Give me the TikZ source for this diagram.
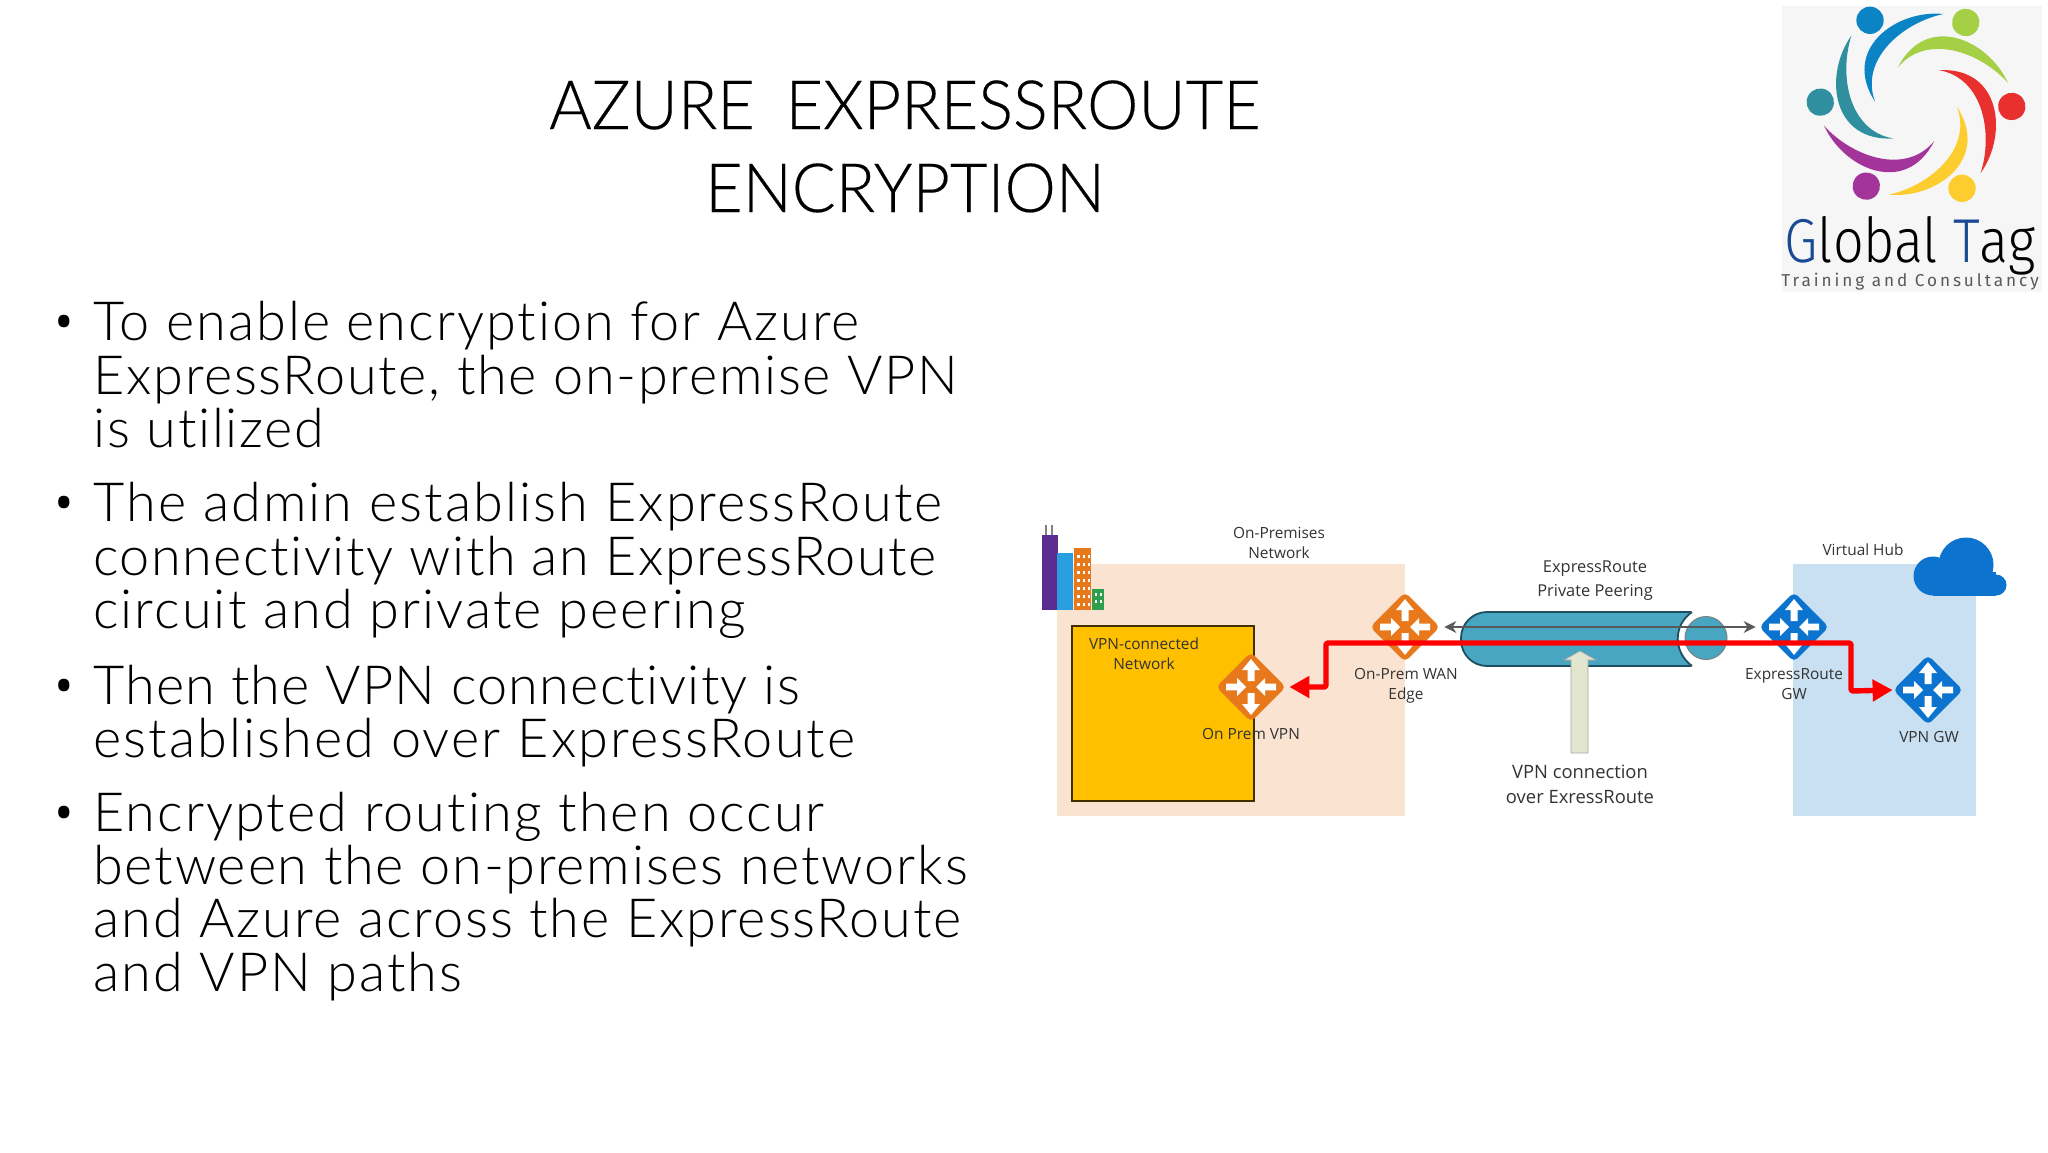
\documentclass[tikz,border=0pt]{standalone}
\usepackage{fontspec}
\setmainfont{Lato}
\newfontfamily\bodyf{Lato Light}[Ligatures=NoCommon,LetterSpace=3]
\newfontfamily\titlef{Lato Light}[FakeStretch=0.955,FakeBold=0.25]
\newfontfamily\labelf{Open Sans}
\newfontfamily\logof{Fira Sans Light}[FakeStretch=0.87]
\newfontfamily\logosubf{Fira Sans}[LetterSpace=17]
\usetikzlibrary{shapes.geometric,arrows.meta}
\newcommand{\lsp}[1]{\addfontfeature{LetterSpace=#1}}
\definecolor{routerorange}{HTML}{E8781C}
\definecolor{routerblue}{HTML}{0C73CF}
\definecolor{peach}{HTML}{FBE3D2}
\definecolor{hubblue}{HTML}{C9E0F3}
\definecolor{netyellow}{HTML}{FFC000}
\definecolor{tube}{HTML}{48A6C2}
\definecolor{tubedark}{HTML}{1F4E5E}
\definecolor{labelgray}{HTML}{333333}
\definecolor{pale}{HTML}{E2E6CF}
\definecolor{bldpurple}{HTML}{5C2D91}
\definecolor{bldblue}{HTML}{2A9FE0}
\definecolor{bldgreen}{HTML}{2E9E4F}
\tikzset{
  x=0.5pt,y=-0.5pt,
  titletext/.style={font=\titlef\fontsize{34}{34}\selectfont,text=black,inner sep=0pt,anchor=base},
  bodyline/.style={font=\bodyf\fontsize{27}{27}\selectfont,text=black,inner sep=0pt,anchor=base west},
  bullet/.style={font=\labelf\fontsize{26}{26}\selectfont,text=black,inner sep=0pt,anchor=base},
  lbl/.style={font=\labelf\fontsize{7.7}{7.7}\selectfont,text=labelgray,inner sep=0pt,anchor=base},
  lblbig/.style={font=\labelf\fontsize{9.2}{9.2}\selectfont,text=labelgray,inner sep=0pt,anchor=base},
  router/.style={diamond,aspect=1,draw=none,fill=#1,minimum width=35pt,minimum height=35pt,inner sep=0pt,rounded corners=2.5pt},
  redlink/.style={draw=red,line width=2.7pt,line join=round,rounded corners=1pt,{Triangle[length=10pt,width=10.5pt]}-{Triangle[length=10pt,width=10.5pt]},shorten <=1.5pt},
  graylink/.style={draw=black!65,line width=0.7pt,{Stealth[length=6pt,width=6pt]}-{Stealth[length=6pt,width=6pt]},shorten <=2pt,shorten >=1.5pt},
  router arrows/.pic={
    \foreach \a in {0,180}
      \fill[white,rotate=\a] (-3.5,-6) -- (-3.5,-17) -- (-9,-17) -- (0,-28) -- (9,-17) -- (3.5,-17) -- (3.5,-6) -- cycle;
    \foreach \a in {90,270}
      \fill[white,rotate=\a] (-3.3,-25) -- (-3.3,-14) -- (-9,-14) -- (0,-5) -- (9,-14) -- (3.3,-14) -- (3.3,-25) -- cycle;
  }
}
\begin{document}
\begin{tikzpicture}
\useasboundingbox (0,0) rectangle (2048,1152);
\fill[white] (0,0) rectangle (2048,1152);
% title
\node[titletext] (t1) at (905,129) {AZURE\hspace{6.5pt} EXPRESSROUTE};
\node[titletext] (t2) at (905,212) {ENCRYPTION};
% body
\foreach \n/\y in {b1/340,b2/521,b3/704,b4/831}
  \node[bullet] (\n) at (64,\y) {•};
\node[bodyline] (l1) at (93,340) {\lsp{3.6}To enable encryption for Azure};
\node[bodyline] (l2) at (93,394) {\lsp{3.2}ExpressRoute, the on-premise VPN};
\node[bodyline] (l3) at (93,447) {\lsp{3.3}is utilized};
\node[bodyline] (l4) at (93,521) {\lsp{3.9}The admin establish ExpressRoute};
\node[bodyline] (l5) at (93,575) {\lsp{2.8}connectivity with an ExpressRoute};
\node[bodyline] (l6) at (93,628) {\lsp{3.8}circuit and private peering};
\node[bodyline] (l7) at (93,704) {\lsp{2.2}Then the VPN connectivity is};
\node[bodyline] (l8) at (93,757) {\lsp{3.9}established over ExpressRoute};
\node[bodyline] (l9) at (93,831) {\lsp{3.8}Encrypted routing then occur};
\node[bodyline] (l10) at (93,884) {\lsp{3.35}between the on-premises networks};
\node[bodyline] (l11) at (93,937) {\lsp{3.5}and Azure across the ExpressRoute};
\node[bodyline] (l12) at (93,991) {\lsp{3.7}and VPN paths};
% logo
\fill[black!3.5] (1782,6) rectangle (2042,292);
\begin{scope}[shift={(1916,104.3)},scale=0.3333]
\foreach \i/\c in {0/0B84C6,1/A5CF45,2/E8312F,3/FDCC2E,4/A2349A,5/2F8F9F}{
  \definecolor{fig}{HTML}{\c}
  \begin{scope}[rotate=-60*\i]
    \fill[fig] (-138,-252) circle (41);
    \fill[fig] (82,-271) .. controls (-60,-285) and (-225,-165) .. (-123,-8)
       .. controls (-170,-135) and (-40,-245) .. (82,-271) -- cycle;
  \end{scope}
}
\end{scope}
\node[font=\logof\fontsize{31}{31}\selectfont,inner sep=0pt,anchor=base] (logo) at (1910,262) {\textcolor[HTML]{1A4A94}{G}lobal \textcolor[HTML]{1A4A94}{T}ag};
\node[font=\logosubf\fontsize{8.6}{8.6}\selectfont,text=black!65,inner sep=0pt,anchor=base] (logosub) at (1910,286) {Training and Consultancy};
% diagram panels
\fill[peach] (1057,564) rectangle (1405,816);
\fill[hubblue] (1793,564) rectangle (1976,816);
\draw[fill=netyellow,draw=black!75!netyellow,line width=0.8pt] (1072,626) rectangle (1254,801);
% buildings
\fill[black!50] (1045,525) rectangle (1047,535);
\fill[black!50] (1051,525) rectangle (1053,535);
\fill[bldpurple] (1042,535) rectangle (1058,610);
\fill[bldblue] (1057,553) rectangle (1073,610);
\fill[routerorange] (1074,548) rectangle (1091,610);
\foreach \yy in {555,563,571,579,587,595,603}
  \foreach \xx in {1077,1082.5,1087.5}
    \fill[white] (\xx,\yy) rectangle ++(2.6,3.4);
\fill[bldgreen] (1092,589) rectangle (1104,610);
\foreach \yy in {593,600}
  \foreach \xx in {1095,1100}
    \fill[white] (\xx,\yy) rectangle ++(2,3);
% cloud
\fill[routerblue] (1966,565) circle (27.5);
\fill[routerblue] (1933,576) circle (19.5);
\fill[routerblue] (1996,585) circle (10.5);
\fill[routerblue] (1933,572) rectangle (1996,595.5);
% tube
\draw[fill=tube,draw=tubedark,line width=0.9pt,rounded corners=13pt] (1692,612) -- (1461,612) -- (1461,666) -- (1692,666);
\fill[white] (1692,611) .. controls (1673,625) and (1673,652) .. (1692,667) -- (1700,667) -- (1700,611) -- cycle;
\draw[tubedark,line width=0.9pt] (1692,612) .. controls (1673,625) and (1673,652) .. (1692,666);
\draw[fill=tube,draw=black!50,line width=0.5pt] (1706,638) ellipse (21 and 21.5);
% routers
\node[router=routerorange] (wan) at (1405,627) {};
\node[router=routerorange] (opvpn) at (1251,687) {};
\node[router=routerblue] (ergw) at (1794,627) {};
\node[router=routerblue] (vpngw) at (1928,690) {};
\foreach \r in {wan,opvpn,ergw,vpngw}
  \pic at (\r.center) {router arrows};
% pale arrow
\draw[fill=pale,draw=black!35,line width=0.3pt] (1571,753) -- (1571,660) -- (1564,660) -- (1580,651) -- (1596,660) -- (1588,660) -- (1588,753) -- cycle;
% connectors
\draw[graylink] (wan.east) -- (ergw.west);
\coordinate (bendA) at (1326,687);
\coordinate (bendB) at (1326,643);
\coordinate (bendC) at (1851,643);
\coordinate (bendD) at (1851,691);
\draw[redlink] (opvpn.east) -- (bendA) -- (bendB) -- (bendC) -- (bendD) -- (vpngw.west);
% labels
\node[lbl] (a1) at (1279,538) {On-Premises};
\node[lbl] (a2) at (1279,558) {Network};
\node[lbl] (a3) at (1144,649) {VPN-connected};
\node[lbl] (a4) at (1144,669) {Network};
\node[lbl] (a5) at (1251,739) {On Prem VPN};
\node[lbl] (a6) at (1406,679) {On-Prem WAN};
\node[lbl] (a7) at (1406,699) {Edge};
\node[lbl,font=\labelf\fontsize{8.2}{8.2}\selectfont] (a8) at (1595,572) {ExpressRoute};
\node[lbl,font=\labelf\fontsize{8.2}{8.2}\selectfont] (a9) at (1595,596) {Private Peering};
\node[lbl] (a10) at (1863,555) {Virtual Hub};
\node[lbl] (a11) at (1794,679) {ExpressRoute};
\node[lbl] (a12) at (1794,699) {GW};
\node[lbl] (a13) at (1929,742) {VPN GW};
\node[lblbig] (a14) at (1580,778) {VPN connection};
\node[lblbig] (a15) at (1580,803) {over ExressRoute};
\end{tikzpicture}
\end{document}
